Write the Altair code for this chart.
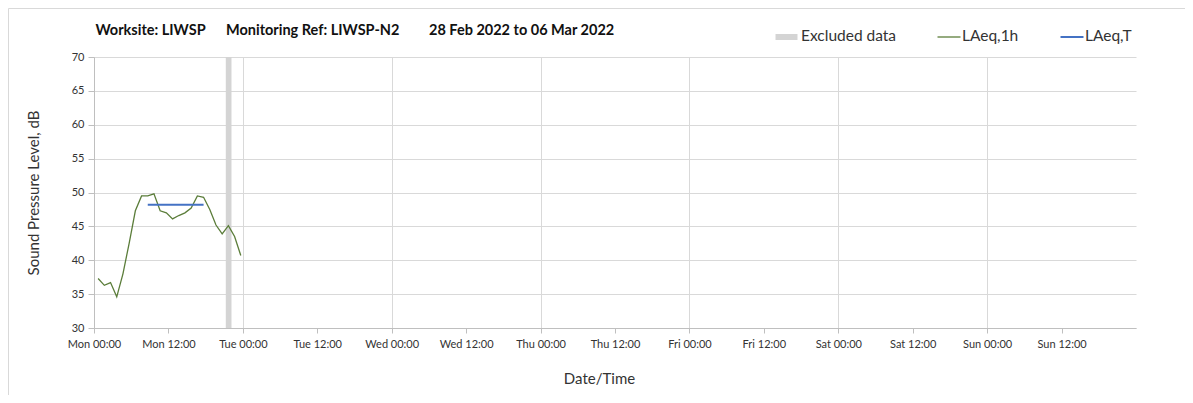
import altair as alt
import pandas as pd
from datetime import datetime, timedelta

# ---- data ----
start = datetime(2022, 2, 28, 0, 40)
laeq_1h = [37.3, 36.3, 36.7, 34.6, 38.0, 42.5, 47.3, 49.5, 49.5, 49.8, 47.3, 47.0,
           46.1, 46.6, 47.0, 47.7, 49.5, 49.3, 47.5, 45.2, 43.9, 45.1, 43.5, 40.7]
times_1h = [(start + timedelta(hours=i)).strftime("%Y-%m-%dT%H:%M:%S") for i in range(len(laeq_1h))]

laeq_T_times = ["2022-02-28T08:40:00", "2022-02-28T17:40:00"]
laeq_T_value = [48.2, 48.2]

excluded_start = ["2022-02-28T21:15:00"]
excluded_end = ["2022-02-28T22:10:00"]

y_ticks = [30, 35, 40, 45, 50, 55, 60, 65, 70]
tick_times = [datetime(2022, 2, 28) + timedelta(hours=12 * i) for i in range(14)]

df_1h = pd.DataFrame({"time": times_1h, "value": laeq_1h})
df_T = pd.DataFrame({"time": laeq_T_times, "value": laeq_T_value})
df_ex = pd.DataFrame({"start": excluded_start, "end": excluded_end})

FONT = "Lato"
GRID = "#d9d9d9"
AXIS = "#bfbfbf"
TXT = "#333333"
GREEN = "#5b7d3a"
BLUE = "#4472c4"
BAND = "#d4d4d4"

x_scale = alt.Scale(domain=[alt.DateTime(year=2022, month=2, date=28, hours=0),
                            alt.DateTime(year=2022, month=3, date=7, hours=0)])
y_scale = alt.Scale(domain=[30, 70], nice=False, zero=False)

x_axis = alt.Axis(
    title="Date/Time",
    values=[alt.DateTime(year=t.year, month=t.month, date=t.day, hours=t.hour) for t in tick_times],
    format="%a %H:%M",
    labelFontSize=11, labelColor=TXT, labelFont=FONT, labelPadding=5,
    labelFlush=False, labelOverlap=False,
    tickSize=5, tickColor=AXIS, domainColor=AXIS,
    grid=True, gridColor=GRID,
    gridOpacity=alt.condition("hours(datum.value) == 0", alt.value(1), alt.value(0)),
    titleFont=FONT, titleFontSize=15, titleFontWeight="normal", titleColor=TXT,
    titleX=505, titleY=50, titleBaseline="middle",
)
y_axis = alt.Axis(
    title="Sound Pressure Level, dB",
    values=y_ticks,
    labelFontSize=11, labelColor=TXT, labelFont=FONT, labelPadding=4,
    labelFlush=False,
    tickSize=6, tickColor=AXIS, domainColor=AXIS,
    grid=True, gridColor=GRID,
    titleFont=FONT, titleFontSize=15, titleFontWeight="normal", titleColor=TXT,
    titlePadding=30,
)

band = alt.Chart(df_ex).mark_rect(color=BAND).encode(
    x=alt.X("start:T", scale=x_scale, axis=x_axis),
    x2="end:T",
)

line_1h = alt.Chart(df_1h).mark_line(color=GREEN, strokeWidth=1.3).encode(
    x=alt.X("time:T", scale=x_scale, axis=x_axis),
    y=alt.Y("value:Q", scale=y_scale, axis=y_axis),
)

line_T = alt.Chart(df_T).mark_line(color=BLUE, strokeWidth=2).encode(
    x=alt.X("time:T", scale=x_scale, axis=x_axis),
    y=alt.Y("value:Q", scale=y_scale, axis=y_axis),
)

# ---- title pieces ----
def text(s, x, y, size, weight="normal", color=TXT):
    return alt.Chart(pd.DataFrame({"t": [s]})).mark_text(
        align="left", baseline="middle", font=FONT, fontSize=size,
        fontWeight=weight, color=color,
    ).encode(text="t:N", x=alt.value(x), y=alt.value(y))

title_parts = [
    text("Worksite: LIWSP", 1.5, -26, 14.5, "bold", "#111111"),
    text("Monitoring Ref: LIWSP-N2", 132, -26, 14.5, "bold", "#111111"),
    text("28 Feb 2022 to 06 Mar 2022", 335, -26, 14.5, "bold", "#111111"),
]

# ---- legend ----
leg_rect = alt.Chart(pd.DataFrame({"a": [0]})).mark_rect(color=BAND).encode(
    x=alt.value(681.5), x2=alt.value(703.5), y=alt.value(-23), y2=alt.value(-17))
leg_green = alt.Chart(pd.DataFrame({"a": [0]})).mark_rule(color=GREEN, strokeWidth=1.3).encode(
    x=alt.value(843.5), x2=alt.value(866.5), y=alt.value(-20))
leg_blue = alt.Chart(pd.DataFrame({"a": [0]})).mark_rule(color=BLUE, strokeWidth=2).encode(
    x=alt.value(966.5), x2=alt.value(989.5), y=alt.value(-20))
legend_texts = [
    text("Excluded data", 707, -21, 15.5),
    text("LAeq,1h", 868, -21, 15.5),
    text("LAeq,T", 991, -21, 15.5),
]

# ---- outer frame (top and left lines) ----
frame_top = alt.Chart(pd.DataFrame({"a": [0]})).mark_rule(color=GRID, strokeWidth=1).encode(
    x=alt.value(-85.5), x2=alt.value(1091), y=alt.value(-48.5))
frame_left = alt.Chart(pd.DataFrame({"a": [0]})).mark_rule(color=GRID, strokeWidth=1).encode(
    x=alt.value(-85.5), y=alt.value(-48.5), y2=alt.value(338))

chart = alt.layer(
    band, line_1h, line_T, *title_parts, leg_rect, leg_green, leg_blue, *legend_texts,
    frame_top, frame_left,
).properties(
    width=1042, height=271,
    autosize=alt.AutoSizeParams(type="none"),
    padding={"left": 86, "top": 49, "right": 49, "bottom": 67},
    background="white",
).configure_view(stroke=None)

chart.save("out.html", embed_options={"renderer": "svg", "actions": False})
